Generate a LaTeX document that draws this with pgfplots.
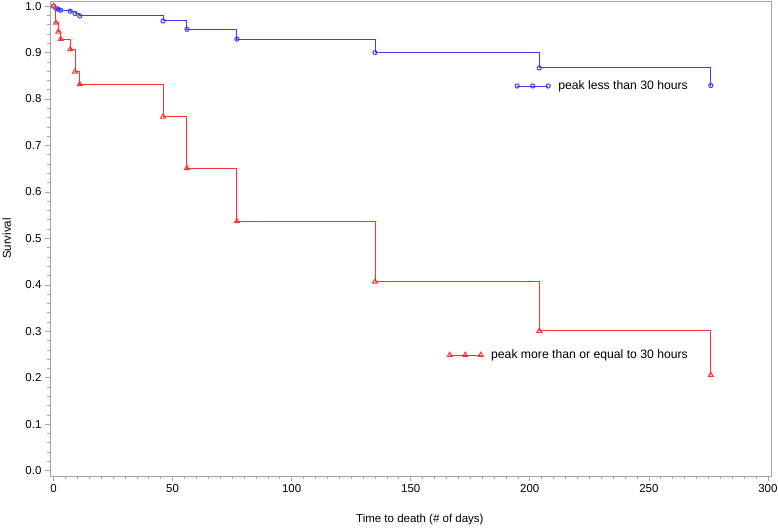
\documentclass[border=0pt]{standalone}
\usepackage{pgfplots}
\pgfplotsset{compat=1.18}
\usepackage{fontspec}
\setmainfont{Liberation Sans}
\definecolor{sblue}{RGB}{60,60,255}
\definecolor{sred}{RGB}{255,50,50}
\definecolor{frame}{RGB}{165,165,165}
\begin{document}
\begin{tikzpicture}
\pgfplotsset{
  common/.style={
    scale only axis, width=721pt, height=475pt,
    xmin=-1.5, xmax=301.3, ymin=-0.0114, ymax=1.011,
  },
  kmlegend/.style={
    legend image code/.code={
      \draw[mark repeat=1,mark phase=1] plot coordinates {(0pt,0pt)(15.5pt,0pt)(31pt,0pt)};},
  },
}
\begin{axis}[common,
  axis line style={frame, line width=0.9pt},
  every tick/.style={frame, line width=0.7pt},
  tick align=outside,
  major tick length=5pt, minor tick length=3pt,
  xtick={0,50,...,300}, minor x tick num=9,
  ytick={0,0.1,...,1.0}, minor y tick num=4,
  xtick pos=bottom, ytick pos=left,
  yticklabel style={/pgf/number format/.cd, fixed, fixed zerofill, precision=1},
  /pgf/number format/assume math mode=true,
  tick label style={font=\fontsize{11.5}{13}\selectfont},
  label style={font=\fontsize{11.5}{13}\selectfont},
  xlabel={Time to death (\# of days)},
  ylabel={Survival},
  xlabel style={at={(axis description cs:0.513,-0.0926)}, anchor=center},
  ylabel style={at={(axis description cs:-0.060,0.5)}, anchor=center, rotate=0},
  kmlegend,
  legend style={draw=none, fill=none, inner sep=0pt, at={(axis cs:267.3,0.828)}, anchor=east,
    font=\fontsize{12.2}{14}\selectfont, nodes={inner sep=2pt}, column sep=6pt},
]
\addplot[const plot, color=sblue, line width=1pt, mark=o, mark size=2.1pt,
  mark options={solid, line width=1pt}]
coordinates {
(0,1.000) (1,0.995) (2,0.993) (3,0.991) (7,0.989) (9,0.984) (11,0.979)
(46,0.968) (56,0.950) (77,0.929) (135,0.900) (204,0.867) (276,0.829)
};
\addlegendentry{peak less than 30 hours}
\end{axis}
\begin{axis}[common, hide axis, kmlegend,
  legend style={draw=none, fill=none, inner sep=0pt, at={(axis cs:267.3,0.249)}, anchor=east,
    font=\fontsize{12.2}{14}\selectfont, nodes={inner sep=2pt}, column sep=6pt},
]
\addplot[const plot, color=sred, line width=1pt, mark=triangle, mark size=2.8pt,
  mark options={solid, line width=1pt}]
coordinates {
(0,1.000) (1,0.964) (2,0.945) (3,0.929) (7,0.907) (9,0.859) (11,0.832)
(46,0.762) (56,0.651) (77,0.537) (135,0.407) (204,0.301) (276,0.206)
};
\addlegendentry{peak more than or equal to 30 hours}
\end{axis}
\pgfresetboundingbox
\path[use as bounding box] (current axis.south west) ++(-50pt,-51pt) rectangle ([shift={(7pt,1pt)}]current axis.north east);
\end{tikzpicture}
\end{document}
